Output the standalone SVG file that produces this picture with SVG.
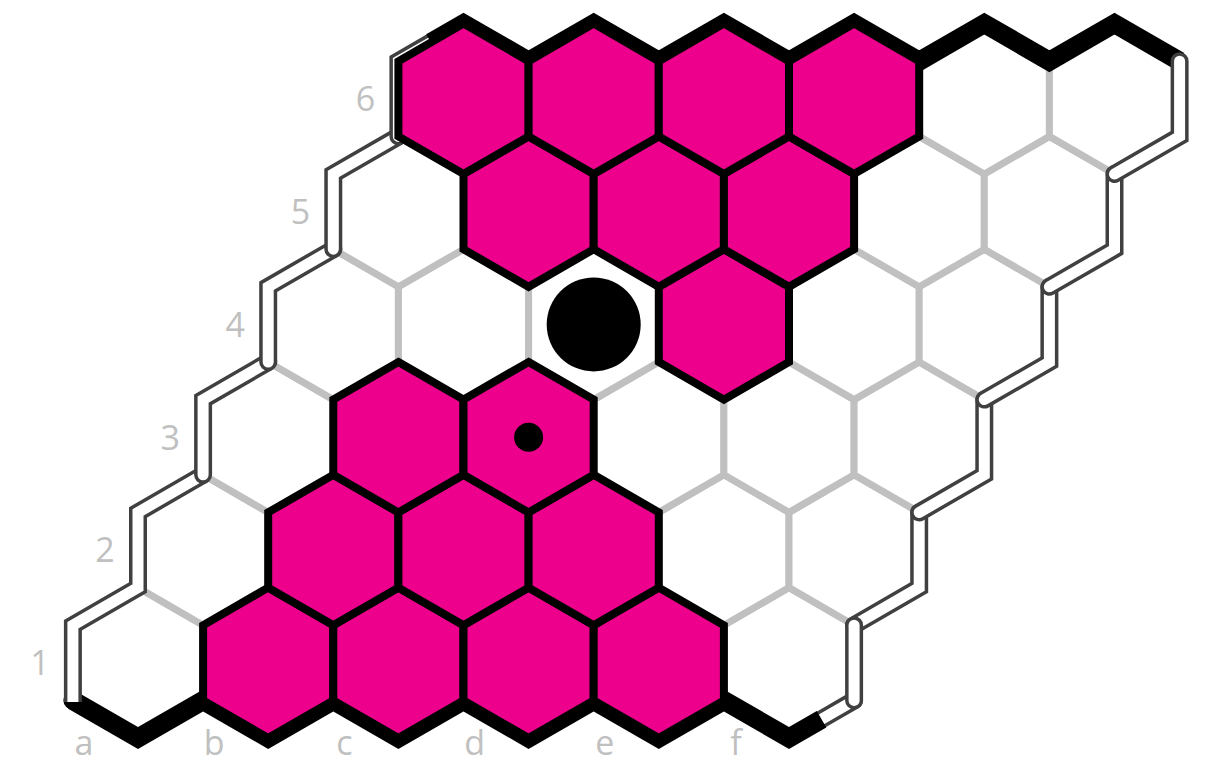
<svg xmlns="http://www.w3.org/2000/svg" xmlns:xlink="http://www.w3.org/1999/xlink" width="1209" height="764" viewBox="0 0 1209 764">
<style>
.w{fill:#ffffff;stroke:#c0c0c0;stroke-width:7;stroke-linejoin:miter}
.p{fill:#ec008c;stroke:#000000;stroke-width:8;stroke-linejoin:miter}
.edge{fill:none;stroke:#000000;stroke-width:19;stroke-linejoin:miter;stroke-linecap:butt}
.to{fill:none;stroke:#404040;stroke-width:18;stroke-linejoin:miter;stroke-linecap:round}
.ti{fill:none;stroke:#ffffff;stroke-width:11;stroke-linejoin:miter;stroke-linecap:round}
.butt{stroke-linecap:butt}
.lbl{font-family:"Open Sans","Liberation Sans",sans-serif;font-size:34px;fill:#c0c0c0;text-anchor:middle}
</style>
<defs>
<polygon id="hx" points="0,-75.2 65.1,-37.6 65.1,37.6 0,75.2 -65.1,37.6 -65.1,-37.6"/>
</defs>
<rect width="1209" height="764" fill="#ffffff"/>
<g id="cells-empty">
<use id="a1" href="#hx" class="w" x="138" y="662.8"/>
<use id="b1" href="#hx" class="w" x="268.2" y="662.8"/>
<use id="c1" href="#hx" class="w" x="398.4" y="662.8"/>
<use id="d1" href="#hx" class="w" x="528.6" y="662.8"/>
<use id="e1" href="#hx" class="w" x="658.8" y="662.8"/>
<use id="f1" href="#hx" class="w" x="789" y="662.8"/>
<use id="a2" href="#hx" class="w" x="203.1" y="550"/>
<use id="b2" href="#hx" class="w" x="333.3" y="550"/>
<use id="c2" href="#hx" class="w" x="463.5" y="550"/>
<use id="d2" href="#hx" class="w" x="593.7" y="550"/>
<use id="e2" href="#hx" class="w" x="723.9" y="550"/>
<use id="f2" href="#hx" class="w" x="854.1" y="550"/>
<use id="a3" href="#hx" class="w" x="268.2" y="437.2"/>
<use id="b3" href="#hx" class="w" x="398.4" y="437.2"/>
<use id="c3" href="#hx" class="w" x="528.6" y="437.2"/>
<use id="d3" href="#hx" class="w" x="658.8" y="437.2"/>
<use id="e3" href="#hx" class="w" x="789" y="437.2"/>
<use id="f3" href="#hx" class="w" x="919.2" y="437.2"/>
<use id="a4" href="#hx" class="w" x="333.3" y="324.4"/>
<use id="b4" href="#hx" class="w" x="463.5" y="324.4"/>
<use id="c4" href="#hx" class="w" x="593.7" y="324.4"/>
<use id="d4" href="#hx" class="w" x="723.9" y="324.4"/>
<use id="e4" href="#hx" class="w" x="854.1" y="324.4"/>
<use id="f4" href="#hx" class="w" x="984.3" y="324.4"/>
<use id="a5" href="#hx" class="w" x="398.4" y="211.6"/>
<use id="b5" href="#hx" class="w" x="528.6" y="211.6"/>
<use id="c5" href="#hx" class="w" x="658.8" y="211.6"/>
<use id="d5" href="#hx" class="w" x="789" y="211.6"/>
<use id="e5" href="#hx" class="w" x="919.2" y="211.6"/>
<use id="f5" href="#hx" class="w" x="1049.4" y="211.6"/>
<use id="a6" href="#hx" class="w" x="463.5" y="98.8"/>
<use id="b6" href="#hx" class="w" x="593.7" y="98.8"/>
<use id="c6" href="#hx" class="w" x="723.9" y="98.8"/>
<use id="d6" href="#hx" class="w" x="854.1" y="98.8"/>
<use id="e6" href="#hx" class="w" x="984.3" y="98.8"/>
<use id="f6" href="#hx" class="w" x="1114.5" y="98.8"/>
</g>
<g id="borders">
<g id="tube-f1-half"><path class="to" d="M821.55,719.2 L854.1,700.4"/><path class="ti" d="M821.55,719.2 L854.1,700.4"/></g>
<g id="edge-bottom">
<circle cx="72.9" cy="700.4" r="9.5" fill="#000000"/>
<path class="edge" d="M72.9,700.4 L138,738 L203.1,700.4 L268.2,738 L333.3,700.4 L398.4,738 L463.5,700.4 L528.6,738 L593.7,700.4 L658.8,738 L723.9,700.4 L789,738 L821.55,719.2"/>
</g>
<g id="tube-a12"><path class="to butt" d="M72.9,702 L72.9,625.2 L138,587.6 L138,512.4 L203.1,474.8"/><path class="ti butt" d="M72.9,702 L72.9,625.2 L138,587.6 L138,512.4 L203.1,474.8"/></g>
<g id="tube-a3"><path class="to" d="M203.1,474.8 L203.1,399.6 L268.2,362"/><path class="ti" d="M203.1,474.8 L203.1,399.6 L268.2,362"/></g>
<g id="tube-a4"><path class="to" d="M268.2,362 L268.2,286.8 L333.3,249.2"/><path class="ti" d="M268.2,362 L268.2,286.8 L333.3,249.2"/></g>
<g id="tube-a5"><path class="to" d="M333.3,249.2 L333.3,174 L398.4,136.4"/><path class="ti" d="M333.3,249.2 L333.3,174 L398.4,136.4"/></g>
<g id="tube-a6"><path class="to" d="M398.4,136.4 L398.4,61.2 L430.95,42.4"/><path class="ti" d="M398.4,136.4 L398.4,61.2 L430.95,42.4"/></g>
<path id="edge-top" class="edge" d="M430.95,42.4 L463.5,23.6 L528.6,61.2 L593.7,23.6 L658.8,61.2 L723.9,23.6 L789,61.2 L854.1,23.6 L919.2,61.2 L984.3,23.6 L1049.4,61.2 L1114.5,23.6 L1179.6,61.2"/>
<g id="tube-f2"><path class="to" d="M919.2,512.4 L919.2,587.6 L854.1,625.2"/><path class="ti" d="M919.2,512.4 L919.2,587.6 L854.1,625.2"/></g>
<g id="tube-f3"><path class="to" d="M984.3,399.6 L984.3,474.8 L919.2,512.4"/><path class="ti" d="M984.3,399.6 L984.3,474.8 L919.2,512.4"/></g>
<g id="tube-f4"><path class="to" d="M1049.4,286.8 L1049.4,362 L984.3,399.6"/><path class="ti" d="M1049.4,286.8 L1049.4,362 L984.3,399.6"/></g>
<g id="tube-f5"><path class="to" d="M1114.5,174 L1114.5,249.2 L1049.4,286.8"/><path class="ti" d="M1114.5,174 L1114.5,249.2 L1049.4,286.8"/></g>
<g id="tube-f6"><path class="to" d="M1179.6,61.2 L1179.6,136.4 L1114.5,174"/><path class="ti" d="M1179.6,61.2 L1179.6,136.4 L1114.5,174"/></g>
<g id="tube-f1"><path class="to" d="M854.1,625.2 L854.1,700.4"/><path class="ti" d="M854.1,625.2 L854.1,700.4"/></g>
</g>
<g id="cells-pink">
<use id="p-b1" href="#hx" class="p" x="268.2" y="662.8"/>
<use id="p-c1" href="#hx" class="p" x="398.4" y="662.8"/>
<use id="p-d1" href="#hx" class="p" x="528.6" y="662.8"/>
<use id="p-e1" href="#hx" class="p" x="658.8" y="662.8"/>
<use id="p-b2" href="#hx" class="p" x="333.3" y="550"/>
<use id="p-c2" href="#hx" class="p" x="463.5" y="550"/>
<use id="p-d2" href="#hx" class="p" x="593.7" y="550"/>
<use id="p-b3" href="#hx" class="p" x="398.4" y="437.2"/>
<use id="p-c3" href="#hx" class="p" x="528.6" y="437.2"/>
<use id="p-d4" href="#hx" class="p" x="723.9" y="324.4"/>
<use id="p-b5" href="#hx" class="p" x="528.6" y="211.6"/>
<use id="p-c5" href="#hx" class="p" x="658.8" y="211.6"/>
<use id="p-d5" href="#hx" class="p" x="789" y="211.6"/>
<use id="p-a6" href="#hx" class="p" x="463.5" y="98.8"/>
<use id="p-b6" href="#hx" class="p" x="593.7" y="98.8"/>
<use id="p-c6" href="#hx" class="p" x="723.9" y="98.8"/>
<use id="p-d6" href="#hx" class="p" x="854.1" y="98.8"/>
</g>
<g id="stones">
<circle id="stone-c4" cx="593.7" cy="324.4" r="47" fill="#000000"/>
<circle id="dot-c3" cx="528.6" cy="437.2" r="14.5" fill="#000000"/>
</g>
<g id="labels">
<text class="lbl" x="40" y="675">1</text>
<text class="lbl" x="105.1" y="562.3">2</text>
<text class="lbl" x="170.2" y="449.5">3</text>
<text class="lbl" x="235.3" y="336.7">4</text>
<text class="lbl" x="300.4" y="223.9">5</text>
<text class="lbl" x="365.5" y="111.1">6</text>
<text class="lbl" x="84" y="755">a</text>
<text class="lbl" x="214.2" y="755">b</text>
<text class="lbl" x="344.4" y="755">c</text>
<text class="lbl" x="474.6" y="755">d</text>
<text class="lbl" x="604.8" y="755">e</text>
<text class="lbl" x="736" y="755">f</text>
</g>
</svg>
